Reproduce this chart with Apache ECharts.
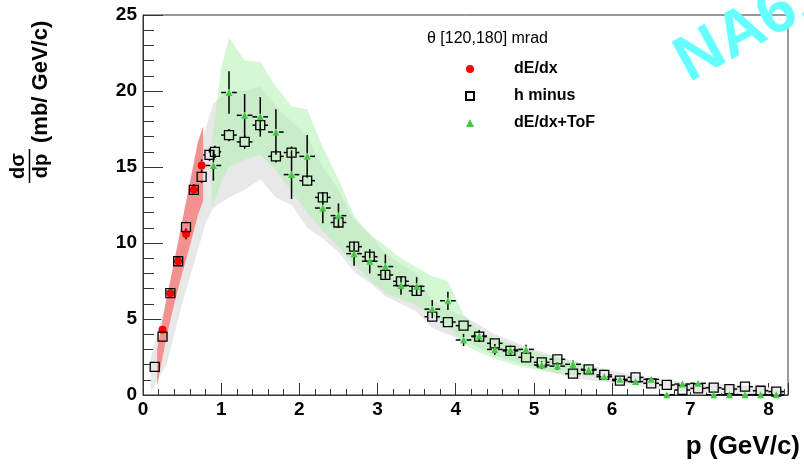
<!DOCTYPE html>
<html><head><meta charset="utf-8">
<script src="https://cdn.jsdelivr.net/npm/echarts@6/dist/echarts.min.js"></script>
<style>html,body{margin:0;padding:0;background:#fff}#c{width:804px;height:468px}</style>
</head><body><div id="c"></div>
<script>
// ---- data ----
const xTicks = [0,1,2,3,4,5,6,7,8];
const yTicks = [0,5,10,15,20,25];

const dEdxX = [0.25,0.35,0.45,0.55,0.65,0.75];
const dEdxY = [4.3,6.7,8.8,10.6,13.5,15.1];
const dEdxYErr = [0.25,0.3,0.3,0.35,0.35,0.4];

const hmX = [0.15,0.25,0.35,0.45,0.55,0.65,0.75,0.85,0.92,1.1,1.3,1.5,1.7,1.9,2.1,2.3,2.5,2.7,2.9,3.1,3.3,3.5,3.7,3.9,4.1,4.3,4.5,4.7,4.9,5.1,5.3,5.5,5.7,5.9,6.1,6.3,6.5,6.7,6.9,7.1,7.3,7.5,7.7,7.9,8.1];
const hmY = [1.85,3.84,6.7,8.8,11.05,13.5,14.35,15.8,16.0,17.1,16.65,17.75,15.7,15.95,14.1,13.0,11.35,9.76,9.1,7.9,7.48,6.85,5.15,4.8,4.56,3.84,3.4,2.9,2.48,2.15,2.35,1.4,1.69,1.32,0.94,1.16,0.77,0.66,0.33,0.44,0.48,0.39,0.55,0.28,0.22];
const hmXErr = [0.05,0.05,0.05,0.05,0.05,0.05,0.05,0.08,0.08,0.1,0.1,0.1,0.1,0.1,0.1,0.1,0.1,0.1,0.1,0.1,0.1,0.1,0.1,0.1,0.1,0.1,0.1,0.1,0.1,0.1,0.1,0.1,0.1,0.1,0.1,0.1,0.1,0.1,0.1,0.1,0.1,0.1,0.1,0.1,0.1];
const hmYErr = [0.2,0.25,0.3,0.3,0.35,0.35,0.4,0.4,0.4,0.4,0.45,0.4,0.4,0.4,0.35,0.35,0.3,0.3,0.3,0.3,0.25,0.25,0.25,0.2,0.2,0.2,0.2,0.2,0.15,0.15,0.15,0.15,0.15,0.12,0.12,0.12,0.1,0.1,0.1,0.1,0.1,0.1,0.1,0.1,0.1];

const tofX = [0.9,1.1,1.3,1.5,1.7,1.9,2.1,2.3,2.5,2.7,2.9,3.1,3.3,3.5,3.7,3.9,4.1,4.3,4.5,4.7,4.9,5.1,5.3,5.5,5.7,5.9,6.1,6.3,6.5,6.7,6.9,7.1,7.3,7.5,7.7,7.9,8.1];
const tofY = [15.1,19.9,18.4,18.3,17.3,14.5,15.7,12.3,11.8,9.3,8.8,8.45,7.2,7.15,5.65,6.2,3.62,3.88,3.0,2.96,3.0,1.97,1.9,2.02,1.64,1.2,1.03,0.88,1.03,0.02,0.72,0.77,0.02,0.02,0.02,0.02,0.02];
const tofXErr = 0.1;
const tofYErr = [1.0,1.4,1.4,1.3,1.5,1.6,1.4,1.0,0.8,0.8,0.8,0.8,0.6,0.6,0.6,0.6,0.4,0.4,0.35,0.3,0.3,0.25,0.25,0.25,0.2,0.2,0.15,0.15,0.15,0.1,0.15,0.15,0.1,0.1,0.1,0.1,0.1];

// systematic bands
const redBandX  = [0.18,0.3,0.4,0.5,0.6,0.7,0.77];
const redBandHi = [3.0,6.3,8.8,11.4,14.0,16.6,17.7];
const redBandLo = [0.6,3.8,6.0,8.0,9.8,11.8,12.8];

const grayBandX  = [0.1,0.3,0.5,0.7,0.8,0.9,1.1,1.3,1.5,1.7,1.9,2.1,2.3,2.5,2.7,2.9,3.1,3.3,3.5,3.7,3.9,4.1,4.5,5.0,5.5,6.0,6.5,7.0,7.5,8.0,8.2];
const grayBandHi = [2.5,6.2,10.8,15.5,17.5,19.2,20.0,20.0,20.3,19.0,18.0,17.0,15.0,13.5,11.5,10.6,9.3,8.6,8.0,6.2,5.6,5.2,4.0,3.0,2.2,1.6,1.1,0.8,0.7,0.5,0.4];
const grayBandLo = [0.2,2.0,6.0,9.5,11.3,12.3,13.0,13.5,14.2,13.0,12.5,11.0,10.3,9.4,8.1,7.4,6.5,6.0,5.5,4.4,4.0,3.6,2.6,1.8,1.1,0.8,0.5,0.2,0.1,0.05,0.0];

const greenBandX  = [0.88,1.0,1.1,1.3,1.5,1.7,1.9,2.1,2.3,2.5,2.7,2.9,3.1,3.3,3.5,3.7,3.9,4.1,4.3,4.5,4.8,5.1,5.4,5.8];
const greenBandHi = [16.5,21.5,23.5,22.0,21.9,20.3,19.0,18.8,16.3,14.2,11.8,10.6,9.8,9.0,8.4,7.8,7.5,5.3,4.2,3.7,3.2,2.7,2.4,1.8];
const greenBandLo = [12.3,14.0,15.0,15.5,15.8,14.8,13.4,12.0,10.8,9.8,8.6,7.6,6.7,6.3,5.9,5.2,4.6,3.3,2.8,2.4,1.9,1.6,1.4,1.2];

const FONT = '"Liberation Sans", Arial, sans-serif';

function bandSeries(name, xs, lo, hi, fill, z) {
  return {
    type: 'custom', name: name, z: z, silent: true,
    data: xs.map((x, i) => [x, lo[i], hi[i]]),
    encode: {x: 0, y: [1, 2]},
    renderItem: function (params, api) {
      if (params.dataIndex !== 0) return null;
      const pts = [];
      for (let i = 0; i < xs.length; i++) pts.push(api.coord([xs[i], hi[i]]));
      for (let i = xs.length - 1; i >= 0; i--) pts.push(api.coord([xs[i], lo[i]]));
      return {type: 'polygon', shape: {points: pts}, style: {fill: fill, stroke: null}};
    }
  };
}

function errSeries(name, xs, ys, xe, ye, gap, z) {
  return {
    type: 'custom', name: name, z: z, silent: true,
    data: xs.map((x, i) => [x, ys[i], Array.isArray(xe) ? xe[i] : xe, Array.isArray(ye) ? ye[i] : ye]),
    encode: {x: 0, y: 1},
    renderItem: function (params, api) {
      const x = api.value(0), y = api.value(1), dx = api.value(2), dy = api.value(3);
      const c = api.coord([x, y]);
      const l = api.coord([x - dx, y]), r = api.coord([x + dx, y]);
      const t = api.coord([x, y + dy]), b = api.coord([x, Math.max(0, y - dy)]);
      const st = {stroke: '#000', lineWidth: 1.5};
      const children = [];
      const seg = (x1, y1, x2, y2) => children.push({type: 'line', shape: {x1, y1, x2, y2}, style: st});
      if (dx > 0) {
        if (c[0] - gap > l[0]) seg(l[0], c[1], c[0] - gap, c[1]);
        if (r[0] > c[0] + gap) seg(c[0] + gap, c[1], r[0], c[1]);
      }
      if (c[1] - gap > t[1]) seg(c[0], t[1], c[0], c[1] - gap);
      if (b[1] > c[1] + gap) seg(c[0], c[1] + gap, c[0], b[1]);
      return {type: 'group', children: children};
    }
  };
}

const chart = echarts.init(document.getElementById('c'), null, {renderer: 'canvas'});
chart.setOption({
  animation: false,
  backgroundColor: '#fff',
  title: {
    text: 'θ [120,180] mrad', left: 427, top: 31, padding: 0,
    textStyle: {fontFamily: FONT, fontWeight: 'normal', fontSize: 16, color: '#000'}
  },
  legend: {
    orient: 'vertical', left: 460, top: 55, itemWidth: 8, itemHeight: 8, itemGap: 9,
    textStyle: {fontFamily: FONT, fontWeight: 'bold', fontSize: 16, color: '#000', lineHeight: 18, padding: [0, 0, 0, 35]},
    data: ['dE/dx', 'h minus', 'dE/dx+ToF']
  },
  grid: {left: 143, right: 16, top: 15, bottom: 73, show: true, borderColor: '#333', borderWidth: 1, backgroundColor: 'transparent'},
  xAxis: {
    type: 'value', min: 0, max: 8.25, interval: 1,
    axisLine: {show: true, onZero: false, lineStyle: {color: '#333', width: 1}},
    axisTick: {show: true, inside: true, length: 12, lineStyle: {color: '#333', width: 1}},
    minorTick: {show: true, splitNumber: 5, length: 6, lineStyle: {color: '#333', width: 1}},
    splitLine: {show: false},
    axisLabel: {fontFamily: FONT, fontWeight: 'bold', fontSize: 19, color: '#000', margin: 5,
      formatter: v => xTicks.indexOf(v) >= 0 ? String(v) : ''}
  },
  yAxis: {
    type: 'value', min: 0, max: 25, interval: 5,
    axisLine: {show: true, onZero: false, lineStyle: {color: '#333', width: 1}},
    axisTick: {show: true, inside: true, length: 20, lineStyle: {color: '#333', width: 1}},
    minorTick: {show: true, splitNumber: 5, length: 11, lineStyle: {color: '#333', width: 1}},
    splitLine: {show: false},
    axisLabel: {fontFamily: FONT, fontWeight: 'bold', fontSize: 19, color: '#000', margin: 6,
      formatter: v => yTicks.indexOf(v) >= 0 ? String(v) : ''}
  },
  graphic: [
    {type: 'text', x: 800, y: 447, z: 100, style: {text: 'p (GeV/c)', font: 'bold 26px ' + FONT, fill: '#000', align: 'right', verticalAlign: 'middle'}},
    {type: 'text', x: 52, y: 143, rotation: Math.PI / 2, z: 100, style: {text: '(mb/ GeV/c)', font: 'bold 22px ' + FONT, fill: '#000', align: 'left', verticalAlign: 'bottom'}},
    {type: 'text', x: 28, y: 166, rotation: Math.PI / 2, z: 100, style: {text: 'dσ', font: 'bold 20px ' + FONT, fill: '#000', align: 'center', verticalAlign: 'bottom'}},
    {type: 'line', z: 100, shape: {x1: 29.5, y1: 149, x2: 29.5, y2: 183}, style: {stroke: '#000', lineWidth: 1.5}},
    {type: 'text', x: 31, y: 166, rotation: Math.PI / 2, z: 100, style: {text: 'dp', font: 'bold 20px ' + FONT, fill: '#000', align: 'center', verticalAlign: 'top'}},
    {type: 'text', x: 696, y: 95, rotation: 0.5, z: 100, style: {text: 'NA61', font: 'bold 64px ' + FONT, fill: '#66ffff', align: 'left', verticalAlign: 'bottom'}}
  ],
  series: [
    bandSeries('grayBand', grayBandX, grayBandLo, grayBandHi, '#e8e8e8', 1),
    bandSeries('greenBand', greenBandX, greenBandLo, greenBandHi, 'rgba(170,240,170,0.5)', 2),
    bandSeries('redBand', redBandX, redBandLo, redBandHi, '#f39090', 3),
    errSeries('dEdxErr', dEdxX, dEdxY, 0, dEdxYErr, 4, 5),
    errSeries('hmErr', hmX, hmY, hmXErr, hmYErr, 4.5, 5),
    errSeries('tofErr', tofX, tofY, tofXErr, tofYErr, 3, 5),
    {type: 'scatter', name: 'dE/dx', z: 6, symbol: 'circle', symbolSize: 8,
     itemStyle: {color: '#ff0000', opacity: 1}, data: dEdxX.map((x, i) => [x, dEdxY[i]])},
    {type: 'scatter', name: 'h minus', z: 7, symbol: 'rect', symbolSize: 9,
     itemStyle: {color: 'rgba(255,255,255,0)', borderColor: '#000', borderWidth: 1.3, opacity: 1}, data: hmX.map((x, i) => [x, hmY[i]])},
    {type: 'scatter', name: 'dE/dx+ToF', z: 8, symbol: 'triangle', symbolSize: 7,
     itemStyle: {color: '#44c844', opacity: 1}, data: tofX.map((x, i) => [x, tofY[i]])}
  ]
});
</script></body></html>
